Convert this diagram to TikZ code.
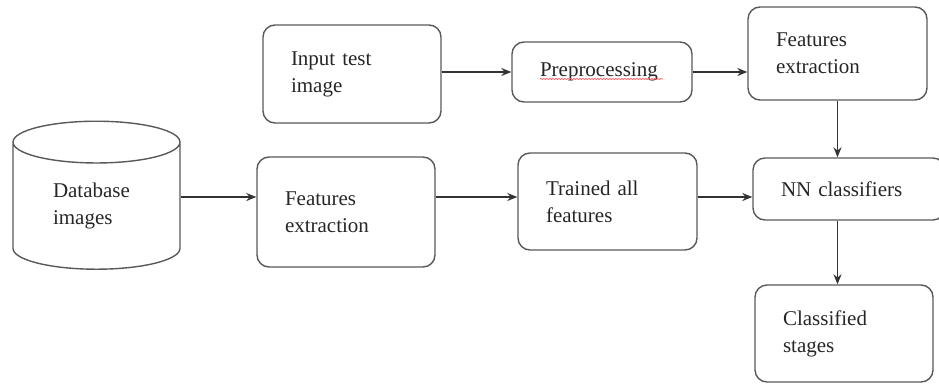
\documentclass[tikz,border=0pt]{standalone}
\usepackage{fontspec}
\setmainfont{Liberation Serif}
\usetikzlibrary{shapes.geometric, arrows.meta, decorations.pathmorphing}
\tikzstyle{box} = [rectangle, rounded corners=12pt, draw=black!65, line width=1.4pt, inner sep=0, align=left, text=black!85, font=\fontsize{21}{27}\selectfont]
\tikzstyle{db} = [cylinder, shape border rotate=90, aspect=0.48, draw=black!65, line width=1.4pt, inner sep=0, text=black!85, font=\fontsize{21}{27}\selectfont]
\tikzstyle{arrow} = [line width=1.4pt, black!80, ->, >={Stealth[length=10pt,width=8pt]}]
\begin{document}
\begin{tikzpicture}[x=1pt,y=-1pt]
\useasboundingbox (0,0) rectangle (939,383);
\node[db, minimum width=167pt, minimum height=148pt] (base) at (96.5,206)
  {\parbox{87pt}{Database\\images}};
\node[box, minimum width=178pt, minimum height=98pt, text width=122pt] (input) at (352,74) {Input test\\image};
\node[box, minimum width=180pt, minimum height=60pt, text width=124pt] (prep) at (602,72) {Preprocessing};
\node[box, minimum width=179pt, minimum height=93pt, text width=123pt] (feattop) at (837.5,53.5) {Features\\extraction};
\node[box, minimum width=178pt, minimum height=110pt, text width=122pt] (featdb) at (346,212) {Features\\extraction};
\node[box, minimum width=179pt, minimum height=97pt, text width=123pt] (train) at (607.5,201.5) {Trained all\\features};
\node[box, minimum width=192pt, minimum height=62pt, text width=136pt] (nn) at (849,189) {NN classifiers};
\node[box, minimum width=178pt, minimum height=97pt, text width=122pt] (stage) at (844,333.5) {Classified\\stages};
\coordinate (row) at (0,197);
% spell-check squiggle
\draw[red!60, line width=0.7pt, decorate, decoration={snake, amplitude=0.7pt, segment length=3pt}] (540,79) -- (663,79);
\draw[arrow] (input.east |- prep.west) -- (prep.west);
\draw[arrow] (prep.east) -- (feattop.west |- prep.east);
\draw[arrow] (feattop.south) -- (feattop.south |- nn.north);
\draw[arrow] (base.east |- row) -- (featdb.west |- row);
\draw[arrow] (featdb.east |- row) -- (train.west |- row);
\draw[arrow] (train.east |- row) -- (nn.west |- row);
\draw[arrow] (nn.south -| feattop.south) -- (feattop.south |- stage.north);
\end{tikzpicture}
\end{document}
